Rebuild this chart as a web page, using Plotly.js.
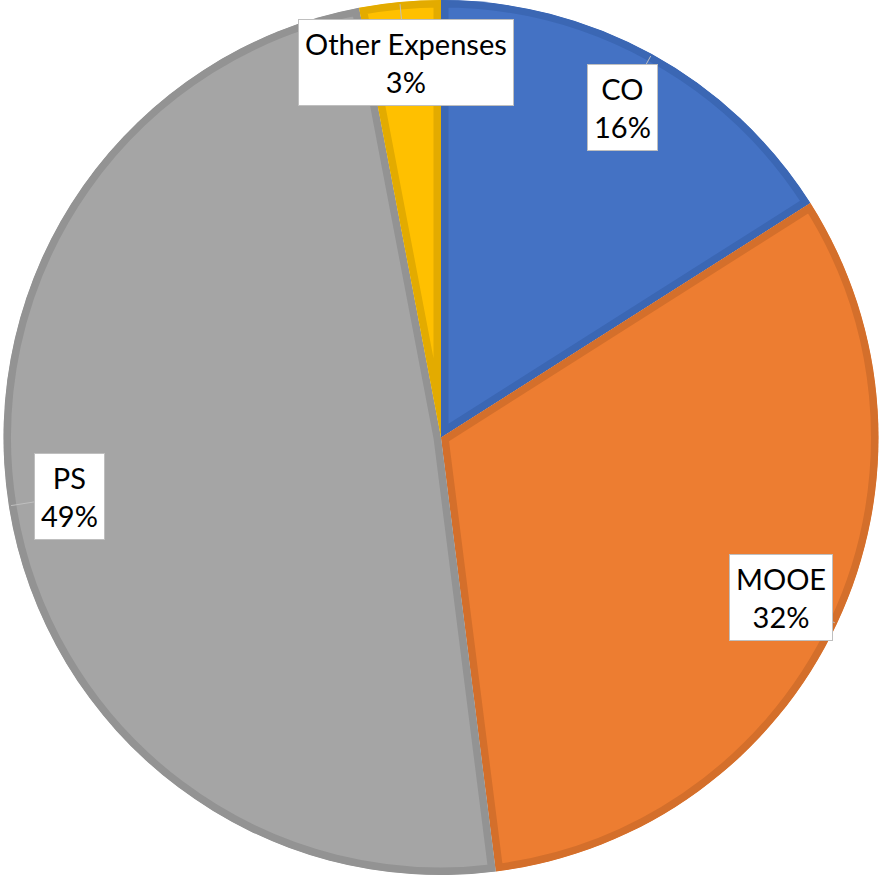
<!DOCTYPE html>
<html>
<head>
<meta charset="utf-8">
<script src="https://cdn.plot.ly/plotly-3.0.1.min.js"></script>
<style>html,body{margin:0;padding:0;background:#fff;}#chart{width:882px;height:875px;}</style>
</head>
<body>
<div id="chart"></div>
<script>
const categories = ["CO", "MOOE", "PS", "Other Expenses"];
const values = [16, 32, 49, 3];
const fillColors = ["#4472C4", "#ED7D31", "#A5A5A5", "#FFC000"];
const borderColors = ["#3B67B4", "#D46F2B", "#939393", "#E3AB00"];

const W = 882, H = 875;
const R = Math.min(W, H) / 2;
const total = values.reduce((a, b) => a + b, 0);

const annotations = [];
let cum = 0;
values.forEach((v, i) => {
  const mid = (cum + v / 2) / total * 2 * Math.PI;
  cum += v;
  const k = 0.86;
  const tip = 0.995;
  annotations.push({
    xref: "paper", yref: "paper",
    x: 0.5 + tip * R * Math.sin(mid) / W,
    y: 0.5 + tip * R * Math.cos(mid) / H,
    ax: (k - tip) * R * Math.sin(mid),
    ay: -(k - tip) * R * Math.cos(mid),
    xanchor: "center", yanchor: "middle",
    text: categories[i] + "<br>" + Math.round(v / total * 100) + "%",
    showarrow: true,
    arrowhead: 0,
    arrowwidth: 1,
    arrowcolor: "#BFBFBF",
    standoff: 0,
    font: {family: "Lato, 'Open Sans', sans-serif", size: 29, color: "#000"},
    bgcolor: "#ffffff",
    bordercolor: "#BFBFBF",
    borderwidth: 1,
    borderpad: 6
  });
});

const data = [{
  type: "pie",
  labels: categories,
  values: values,
  sort: false,
  direction: "clockwise",
  rotation: 0,
  textinfo: "none",
  hoverinfo: "none",
  marker: {colors: fillColors, line: {color: borderColors, width: 15}},
  domain: {x: [0, 1], y: [0, 1]}
}];

const layout = {
  width: W, height: H,
  margin: {l: 0, r: 0, t: 0, b: 0},
  showlegend: false,
  paper_bgcolor: "#ffffff",
  annotations: annotations
};

Plotly.newPlot("chart", data, layout, {displayModeBar: false, staticPlot: true}).then(gd => {
  // turn the centred slice outline into an inner border by clipping each slice to itself
  const svgNS = "http://www.w3.org/2000/svg";
  const mainSvg = gd.querySelector("svg.main-svg");
  let defs = mainSvg.querySelector("defs");
  if (!defs) { defs = document.createElementNS(svgNS, "defs"); mainSvg.insertBefore(defs, mainSvg.firstChild); }
  gd.querySelectorAll("g.slice path.surface").forEach((p, i) => {
    const cp = document.createElementNS(svgNS, "clipPath");
    cp.setAttribute("id", "sliceclip" + i);
    const cpath = document.createElementNS(svgNS, "path");
    cpath.setAttribute("d", p.getAttribute("d"));
    const tr = p.getAttribute("transform");
    if (tr) cpath.setAttribute("transform", tr);
    cp.appendChild(cpath);
    defs.appendChild(cp);
    p.setAttribute("clip-path", "url(#sliceclip" + i + ")");
  });
});
</script>
</body>
</html>
